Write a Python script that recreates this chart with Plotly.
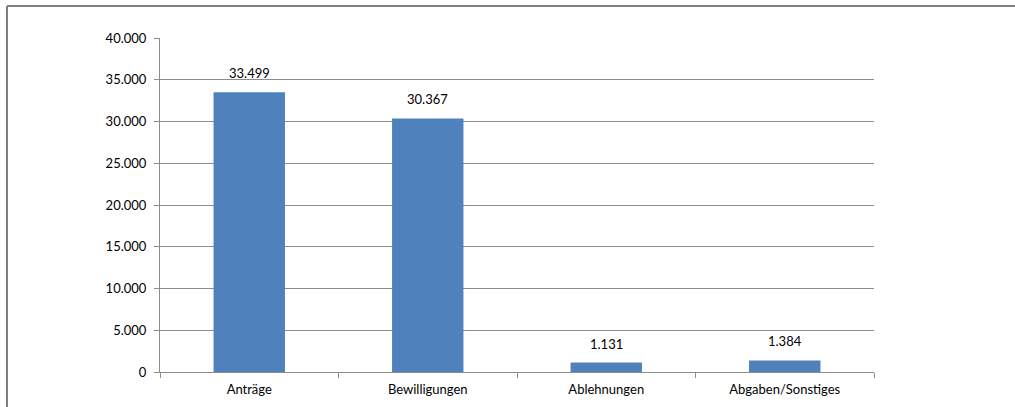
import plotly.graph_objects as go

categories = ["Anträge", "Bewilligungen", "Ablehnungen", "Abgaben/Sonstiges"]
values = [33499, 30367, 1131, 1384]
y_ticks = [0, 5000, 10000, 15000, 20000, 25000, 30000, 35000, 40000]

FONT = "Lato, 'Open Sans', sans-serif"
GRID = "#8c8c8c"
FS = 13

fig = go.Figure(go.Bar(
    x=categories, y=values,
    marker=dict(color="#4F81BD", line=dict(width=0)),
    width=0.4,
))

for c, v in zip(categories, values):
    fig.add_annotation(x=c, y=v, text=f"{v:,}".replace(",", "."),
                       showarrow=False, yanchor="bottom", yshift=9,
                       font=dict(size=FS, family=FONT, color="#000000"))

L, R, T, B = 160, 141, 38, 35
W, H = 1015, 407
pw, ph = W - L - R, H - T - B

fig.update_layout(
    width=W, height=H,
    margin=dict(l=L, r=R, t=T, b=B, pad=0),
    paper_bgcolor="white", plot_bgcolor="white",
    separators=",.",
    showlegend=False,
    font=dict(family=FONT, size=FS, color="#000000"),
    xaxis=dict(
        showline=True, linecolor=GRID, linewidth=1,
        ticks="outside", tickson="boundaries", ticklen=5, tickcolor=GRID,
        showgrid=False, tickfont=dict(size=FS, family=FONT),
        ticklabelstandoff=5, automargin=False,
    ),
    yaxis=dict(
        range=[0, 40000], tickvals=y_ticks, tickformat=",",
        showline=True, linecolor=GRID, linewidth=1,
        ticks="outside", ticklen=5, tickcolor=GRID,
        showgrid=True, gridcolor=GRID, gridwidth=1,
        zeroline=False, tickfont=dict(size=FS, family=FONT),
        ticklabelstandoff=5, automargin=False,
    ),
)

# outer chart border (top and left edges visible in the reference)
x_left = (7 - L) / pw
y_top = (H - B - 6) / ph
fig.add_shape(type="line", xref="paper", yref="paper",
              x0=x_left, x1=(W + 10 - L) / pw, y0=y_top, y1=y_top,
              line=dict(color="#7f7f7f", width=2))
fig.add_shape(type="line", xref="paper", yref="paper",
              x0=x_left, x1=x_left, y0=y_top, y1=(-B - 10) / ph,
              line=dict(color="#7f7f7f", width=2))

fig.write_html("out.html")
